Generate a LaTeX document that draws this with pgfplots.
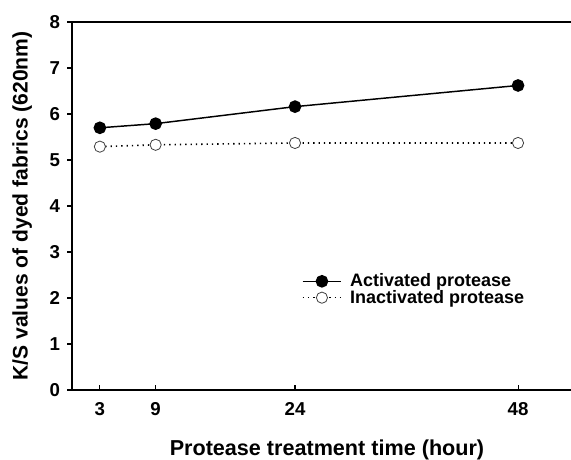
\documentclass[border=0pt]{standalone}
\usepackage{fontspec}
\setmainfont{Liberation Sans}
\usepackage{pgfplots}
\pgfplotsset{compat=1.18}
\begin{document}
\begin{tikzpicture}
\begin{axis}[
  scale only axis,
  width=374.25pt, height=276pt,
  xmin=0, xmax=53.7, ymin=0, ymax=8,
  axis x line=box, axis y line=left,
  axis line style={-, line width=2.2pt},
  xtick={3,9,24,48}, ytick={0,1,...,8},
  xtick pos=bottom, ytick pos=left,
  xtick align=inside, ytick align=outside,
  major tick length=3.4pt,
  tick style={black, line width=0.8pt},
  /pgf/number format/assume math mode=true,
  ticklabel style={font=\fontsize{14}{16}\selectfont\bfseries},
  yticklabel style={xshift=-2pt},
  xticklabel style={yshift=-6pt},
  xlabel={Protease treatment time (hour)},
  ylabel={K/S values of dyed fabrics (620nm)},
  xlabel style={font=\fontsize{16.2}{18}\selectfont\bfseries, at={(axis description cs:0.511,-0.163)}, anchor=center},
  ylabel style={font=\fontsize{15.8}{17}\selectfont\bfseries, at={(axis description cs:-0.100,0.50)}, anchor=center},
  legend style={at={(axis description cs:0.452,0.331)}, anchor=north west, draw=none, fill=none,
    font=\fontsize{13.5}{15}\selectfont\bfseries, row sep=-3pt, /tikz/column sep=4pt},
  legend cell align=left,
  legend image code/.code={\draw[mark repeat=2,mark phase=2] plot coordinates {(0pt,0pt)(14.5pt,0pt)(29pt,0pt)};},
]
\addplot[black, line width=1.1pt, mark=*, mark size=4.2pt, mark options={solid, fill=black}]
  coordinates {(3,5.70)(9,5.79)(24,6.16)(48,6.62)};
\addlegendentry{Activated protease}
\addplot[black, line width=1.2pt, dash pattern=on 1pt off 3pt, mark=*, mark size=4.2pt,
  mark options={solid, fill=white, draw=black!75, line width=0.6pt}]
  coordinates {(3,5.29)(9,5.33)(24,5.37)(48,5.37)};
\addlegendentry{Inactivated protease}
\coordinate (bl) at (rel axis cs:0,0);
\coordinate (tr) at (rel axis cs:1,1);
\end{axis}
\pgfresetboundingbox
\path ([shift={(-54pt,-52.5pt)}]bl) rectangle ([shift={(0pt,16.5pt)}]tr);
\end{tikzpicture}
\end{document}
